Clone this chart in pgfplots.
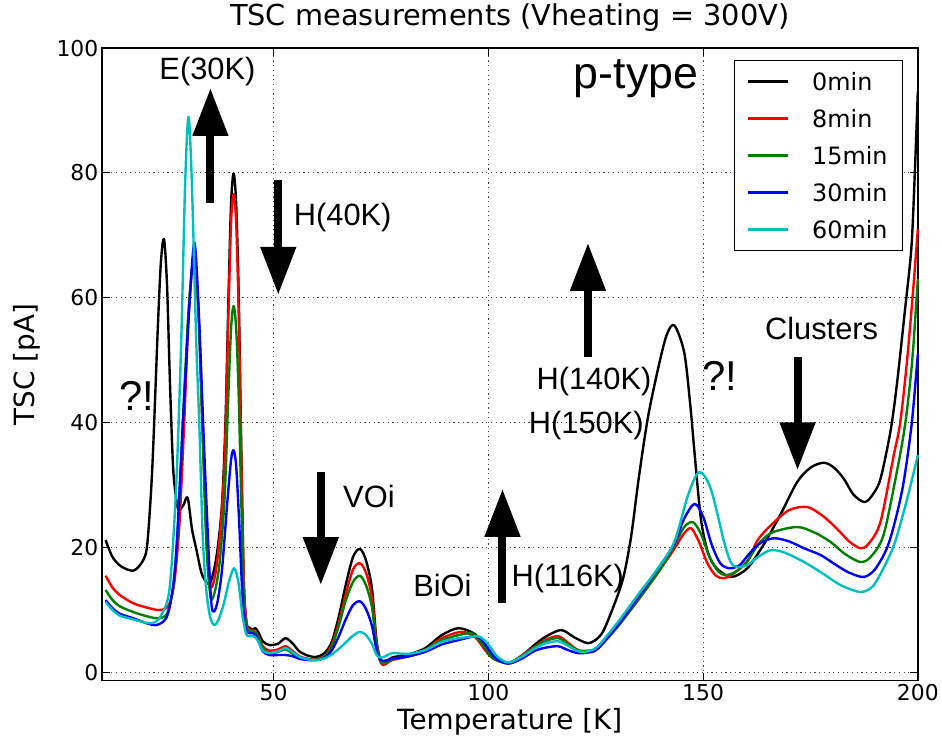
\documentclass[border=0pt]{standalone}
\usepackage{fontspec}
\setmainfont{DejaVu Sans}
\newfontfamily\annfont{Liberation Sans}
\usepackage{pgfplots}
\pgfplotsset{compat=1.18}
\usetikzlibrary{arrows.meta}
\definecolor{mgreen}{rgb}{0,0.5,0}
\definecolor{mcyan}{rgb}{0,0.75,0.75}
\begin{document}
\begin{tikzpicture}
\begin{axis}[
  name=ax,
  scale only axis,
  width=818bp, height=634bp,
  xmin=10, xmax=200, ymin=-1.3, ymax=100,
  xtick={50,100,150,200}, ytick={0,20,40,60,80,100},
  /pgf/number format/assume math mode=true,
  tick label style={font=\fontsize{22}{22}\selectfont},
  tick align=inside, major tick length=8bp,
  tick style={black, line width=1bp},
  xtick pos=both, ytick pos=both,
  axis line style={line width=1.5bp},
  grid=major,
  grid style={line width=1bp, black!75, dash pattern=on 1.2bp off 3.5bp},
  title={TSC measurements (Vheating = 300V)},
  title style={font=\fontsize{29}{29}\selectfont, at={(axis description cs:0.5,1.0268)}, anchor=base},
  xlabel={Temperature [K]},
  xlabel style={font=\fontsize{28}{28}\selectfont, at={(axis description cs:0.5,-0.0773)}, anchor=base},
  ylabel={TSC [pA]},
  ylabel style={font=\fontsize{28}{28}\selectfont, at={(axis description cs:-0.082,0.5)}, anchor=base, rotate=0},
  clip=false,
  legend style={at={(axis description cs:0.982,0.981)}, anchor=north east, draw=black, line width=1.2bp,
    fill=white, font=\fontsize{24}{24}\selectfont, inner xsep=12bp, inner ysep=9bp, row sep=13bp,
    nodes={inner sep=3bp, text height=18bp, text depth=0bp},
    /tikz/every odd column/.append style={column sep=20bp}},
  legend cell align=left,
  legend image code/.code={\draw[#1, line width=3bp] (0bp,0bp) -- (40bp,0bp);},
  every axis plot/.append style={line width=2.4bp, smooth, tension=0.5, line join=round},
]
\addplot[black] coordinates {(10.9,21.2) (12.5,18.5) (14.5,17.0) (17.2,16.3) (19,17.3) (20.4,19.5) (21.2,26) (21.9,34.8) (23.1,56) (23.8,66) (24.5,69.4) (25.2,62) (25.9,46) (26.6,33) (27.3,28) (27.9,26.0) (29.0,26.8) (30.0,28) (31,23) (32,19.8) (33.2,16) (34.3,14.5) (35.1,14.2) (36,16) (37,20) (38,27) (38.8,40) (39.5,60) (40.1,75) (40.7,79.9) (41.3,75) (41.9,60) (42.5,35) (43.1,14) (43.7,8) (44.3,7.2) (45.1,6.9) (45.8,7.1) (46.5,6.4) (47.5,5) (49,4.4) (51,4.6) (52.8,5.5) (54.5,4.6) (56,3.4) (58,2.7) (60,2.5) (62,3.2) (63.6,5) (65.2,9) (66.8,14) (68.5,18.5) (70.1,19.8) (71.5,18) (72.9,13.5) (74,5) (75,1.8) (76,1.6) (77.6,2.4) (81.5,2.9) (85.3,3.9) (89.2,6.0) (93.1,7.1) (97,6.1) (99,4.2) (100.8,2.8) (103.9,1.6) (105.4,1.7) (108,2.8) (110.9,4.5) (113.5,5.8) (117,6.8) (120.1,5.6) (123.2,4.7) (125.5,5.5) (127.1,7.1) (130.2,12.5) (131.7,16) (133.3,22) (135,31) (137.1,40.6) (139.5,48.6) (141.5,54) (143.3,55.6) (145.6,51.3) (147,43) (148,35.3) (149.5,24.6) (151.1,19.3) (153,16.8) (156.5,15.3) (160.3,16.7) (164.2,20.6) (168.1,25.4) (171.9,30.5) (175,32.8) (178.1,33.6) (180.5,32.8) (182.8,31) (185,28.5) (187.6,27.3) (189.5,28.5) (191.3,31) (193.6,38.5) (195.1,46) (197,58) (198.5,68) (199.3,80) (200,93)};
\addlegendentry{0min}
\addplot[red] coordinates {(10.9,15.5) (12.5,13.6) (14.2,12.4) (17.3,11.1) (20,10.5) (23.1,10.0) (25.0,10.3) (26.0,11.5) (27,15) (28.1,24) (29.2,40) (30.3,58) (31.5,67) (32.5,58) (33.5,38) (34.5,20) (35.4,13.7) (36.5,16) (37.5,22) (38.6,34) (39.4,55) (40.1,72) (40.7,76.6) (41.3,72) (41.9,57) (42.5,34) (43.1,14) (43.7,8) (44.3,6.9) (45.1,6.8) (45.8,6.5) (46.5,5.8) (47.5,4.2) (49,3.5) (51,3.7) (52.8,4.2) (54.5,3.4) (56,2.6) (58,2.2) (60,2.1) (62,2.7) (63.6,4.5) (65.2,8) (66.8,12.5) (68.5,16.5) (70.1,17.5) (71.5,16) (72.9,12) (74,4.5) (75,1.5) (76,1.3) (77.6,2.0) (81.5,2.6) (85.3,3.6) (89.2,5.5) (93.8,6.5) (97,5.6) (99,3.8) (100.8,2.4) (103.9,1.5) (105.4,1.6) (108,2.8) (110.9,4.2) (113.5,5.3) (116.3,5.8) (118.5,4.8) (120.9,3.6) (123.2,3.5) (125.5,4.0) (130.2,7.5) (134.8,11.5) (139.5,16) (143.3,19.8) (145.5,22.2) (147.2,23.1) (149,21) (151,17.5) (153,15.5) (154.9,15.1) (157,15.8) (160.3,17.8) (162.7,21.2) (165.8,23.6) (170,26) (174.3,26.5) (178,25) (181.2,23) (184,21) (186.6,19.9) (188.5,20.6) (191.3,24.1) (194.4,34.8) (195.9,40) (197.5,50) (199,62) (200,71)};
\addlegendentry{8min}
\addplot[mgreen] coordinates {(10.9,13.2) (12.5,11.6) (14.2,10.6) (17.3,9.7) (20,9.1) (22.7,8.7) (24.5,8.9) (25.5,10) (26.7,14) (27.8,24) (29,42) (30.3,59) (31.5,66) (32.5,58) (33.5,38) (34.4,20) (35.4,11.9) (36.5,13.5) (37.5,18) (38.6,28) (39.4,43) (40.1,55) (40.7,58.7) (41.3,55) (41.9,44) (42.5,27) (43.1,12) (43.7,7.5) (44.3,6.7) (45.1,6.6) (45.8,6.4) (46.5,5.6) (47.5,3.9) (49,3.1) (51,3.3) (52.8,3.7) (54.5,3.0) (56,2.4) (58,2.1) (60,2.0) (62,2.6) (63.6,4.2) (65.2,7.5) (66.8,11.5) (68.5,14.5) (70.1,15.5) (71.5,14) (72.9,10.5) (74,4.2) (75,1.7) (76,1.5) (77.6,2.1) (81.5,2.7) (85.3,3.6) (89.2,5.2) (95.4,6.3) (97.5,5.5) (99.5,3.6) (101.2,2.2) (104,1.5) (105.4,1.6) (108,2.7) (110.9,4.1) (113.5,5.1) (116.3,5.5) (118.5,4.6) (120.9,3.5) (123.2,3.4) (125.5,3.9) (130.2,7.4) (134.8,11.6) (139.5,16) (143.3,20.3) (145.5,23.2) (147.6,24.1) (149.5,22.2) (151.5,18.5) (153.5,16.2) (155.2,15.6) (157.5,16.1) (160.3,17.8) (162.7,20.4) (166,22.4) (171.9,23.3) (176,22.4) (179.7,20.9) (183,19) (186.6,17.7) (189,18.5) (192,22) (195.1,32.1) (197.1,40) (198.7,50) (200,63)};
\addlegendentry{15min}
\addplot[blue] coordinates {(10.9,11.6) (12.5,10.3) (14.2,9.4) (17.3,8.7) (20,8.0) (22.7,7.6) (25,8.7) (26.2,12) (27.3,18.8) (28.9,40) (30.4,58.7) (31.6,68.8) (32.7,56) (33.9,34.8) (35.1,16) (35.6,10.5) (36.2,9.8) (37,11.5) (38,16.5) (39.2,27) (40.1,34) (40.7,35.6) (41.3,33) (42,24) (42.7,13) (43.3,8) (43.9,6.5) (44.5,6.3) (45.1,6.3) (45.8,6.0) (46.5,5.0) (47.5,3.4) (49,2.8) (51,2.8) (52.8,2.8) (54.5,2.6) (56,2.2) (58,2.0) (60,2.0) (62,2.4) (63.6,3.6) (65.2,5.8) (66.8,8.5) (68.5,10.8) (70.1,11.4) (71.5,10.2) (72.9,7.5) (74,3.5) (75,2.0) (76,1.9) (77.6,2.2) (81.5,2.6) (85.3,3.3) (89.2,4.5) (93.1,5.2) (97,5.8) (98.5,5.2) (100,3.8) (101.8,2.2) (104,1.5) (105.4,1.5) (108,2.3) (110.9,3.5) (113.5,4.0) (116.3,4.2) (118.5,3.6) (120.9,3.1) (123.2,3.2) (125.5,3.8) (130.2,7.6) (134.8,12) (139.5,16.6) (143.3,20.6) (145.5,24.5) (148,27) (150,25) (152,20.5) (154,17.5) (156.1,16.7) (158.5,17.2) (161.1,19.3) (163.5,20.8) (166.5,21.5) (170,21) (173.5,19.9) (177.4,18.8) (181,17.2) (184,16) (187.4,15.3) (190,16.5) (192.8,19.9) (194.8,24.5) (196.7,30.5) (198.6,40) (200,51)};
\addlegendentry{30min}
\addplot[mcyan] coordinates {(10.9,11.3) (12.5,10.0) (14.2,9.1) (17.3,8.5) (19.5,8.1) (21.1,7.9) (22.5,8.1) (24,9.4) (25.8,13.5) (27.3,29.4) (28.5,53) (29.4,78) (30.2,89) (31,78) (32,53) (32.7,40) (33.5,22) (34.3,13.5) (35.2,9) (36.2,7.6) (37.2,8.5) (38.4,11) (39.6,14.5) (40.8,16.7) (41.8,14.5) (42.8,9) (43.6,6.2) (44.3,5.8) (45.1,5.9) (45.8,5.6) (46.5,4.9) (47.5,3.5) (49,3.1) (51,3.4) (52.8,3.9) (54.5,3.2) (56,2.5) (58,2.1) (60,2.0) (62,2.3) (63.6,2.9) (65.2,3.8) (66.8,4.8) (68.5,5.9) (70.1,6.5) (71.5,6.0) (72.9,4.6) (74,2.8) (75,2.4) (76,2.6) (77.6,3.1) (81.5,3.0) (85.3,3.6) (89.2,4.9) (93.1,5.5) (97.4,5.8) (98.5,5.5) (100,4.5) (102,2.6) (104,1.7) (105.4,1.7) (108,2.6) (110.9,3.9) (113.5,4.7) (116.3,5.0) (118.5,4.3) (120.9,3.4) (123.2,3.4) (125.5,4.2) (130.2,8.1) (134.8,12.4) (139.5,16.7) (143.3,20.9) (146.5,28.4) (149.1,32.1) (151.8,29.4) (154.9,20.9) (156.5,17.6) (158,16.9) (160.3,17.2) (163,18.6) (165.8,19.6) (169,19.2) (173.5,17.7) (178,15.8) (182,14.0) (186.6,12.9) (189.5,13.8) (192,16.7) (194.5,20.5) (196.7,25.7) (198.5,30.5) (200,34.8)};
\addlegendentry{60min}
% annotations
\begin{scope}[line width=8bp, -{Triangle[width=34bp,length=48bp]}]
\draw (axis cs:35.3,75.2) -- (axis cs:35.3,93.6);
\draw (axis cs:51.1,78.8) -- (axis cs:51.1,60.5);
\draw (axis cs:61.0,32.1) -- (axis cs:61.0,14.0);
\draw (axis cs:103.3,11.1) -- (axis cs:103.3,29.4);
\draw (axis cs:123.2,50.6) -- (axis cs:123.2,68.8);
\draw (axis cs:172.0,50.5) -- (axis cs:172.0,32.4);
\end{scope}
\begin{scope}[every node/.style={font=\annfont\fontsize{31}{31}\selectfont, anchor=base, inner sep=0pt}]
\node at (axis cs:34.6,94.9) {E(30K)};
\node at (axis cs:66.1,71.6) {H(40K)};
\node at (axis cs:72.2,26.4) {VOi};
\node at (axis cs:89.3,12.1) {BiOi};
\node at (axis cs:118.5,13.7) {H(116K)};
\node at (axis cs:124.6,45.4) {H(140K)};
\node at (axis cs:122.8,38.2) {H(150K)};
\node at (axis cs:177.6,53.4) {Clusters};
\node[font=\annfont\fontsize{42}{42}\selectfont] at (axis cs:18.2,42.0) {?!};
\node[font=\annfont\fontsize{42}{42}\selectfont] at (axis cs:153.9,45.2) {?!};
\node[font=\annfont\fontsize{45}{45}\selectfont] at (axis cs:134.4,93.5) {p-type};
\end{scope}
\end{axis}
\path ([xshift=-102bp,yshift=-60bp]ax.south west) rectangle ([xshift=22bp,yshift=45bp]ax.north east);
\end{tikzpicture}
\end{document}
